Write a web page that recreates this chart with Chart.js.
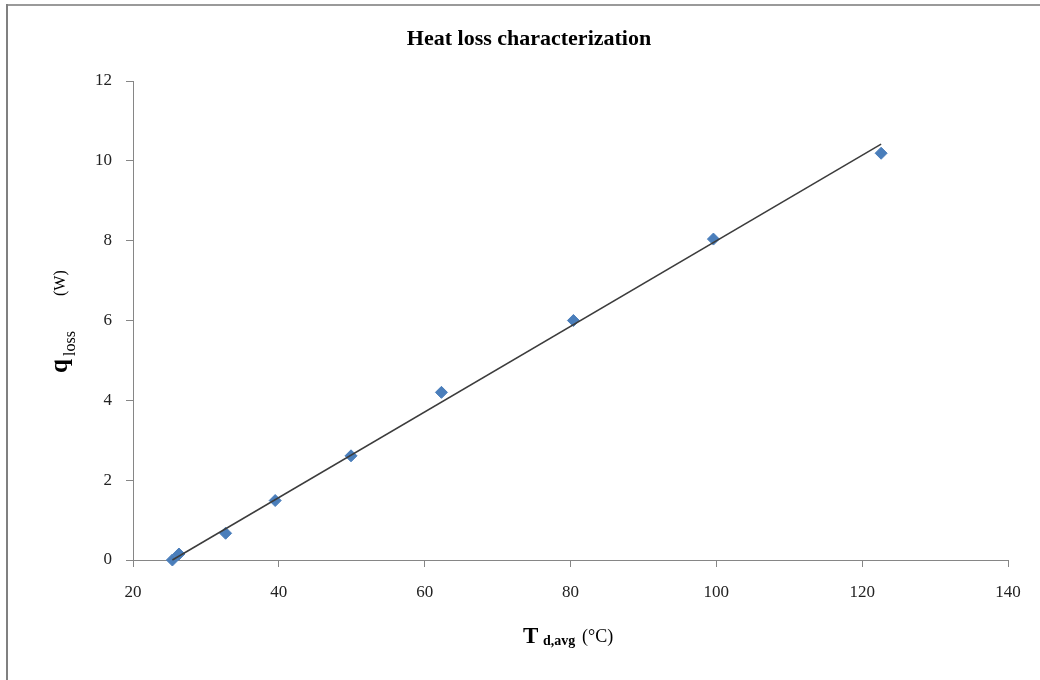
<!DOCTYPE html>
<html lang="en">
<head>
    <meta charset="UTF-8">
    <title>Heat loss characterization</title>
    <script src="https://cdn.jsdelivr.net/npm/chart.js@4.4.1/dist/chart.umd.min.js"></script>
    <style>
        body {
            margin: 0;
            background: #ffffff;
        }
        #wrap {
            width: 1040px;
            height: 680px;
        }
    </style>
</head>
<body>
    <div id="wrap">
        <canvas id="heatChart" width="1040" height="680"></canvas>
    </div>

    <script>
        const tempAvg = [25.4, 26.3, 32.7, 39.5, 49.9, 62.3, 80.4, 99.6, 122.6];
        const qLoss = [0.0, 0.15, 0.67, 1.49, 2.61, 4.2, 6.0, 8.04, 10.19];

        // ends of the linear trend line
        const trendT = [25.4, 122.6];
        const qTrend = [0.0, 10.42];

        const xTicks = [20, 40, 60, 80, 100, 120, 140];
        const yTicks = [0, 2, 4, 6, 8, 10, 12];

        const SERIF = "'Liberation Serif', 'DejaVu Serif', serif";
        const AXIS_GRAY = '#868686';

        // frame, title and the axis captions with subscripts
        const decorations = {
            id: 'decorations',
            beforeDraw(chart) {
                const ctx = chart.ctx;
                ctx.save();
                ctx.fillStyle = '#ffffff';
                ctx.fillRect(0, 0, chart.width, chart.height);
                ctx.fillStyle = '#9a9a9a';
                ctx.fillRect(6, 4, chart.width - 6, 2);
                ctx.fillStyle = '#808080';
                ctx.fillRect(6, 4, 2, chart.height - 4);
                ctx.restore();
            },
            afterDraw(chart) {
                const ctx = chart.ctx;
                ctx.save();
                ctx.fillStyle = '#000000';
                ctx.textBaseline = 'alphabetic';

                ctx.textAlign = 'center';
                ctx.font = 'bold 22px ' + SERIF;
                ctx.fillText('Heat loss characterization', 529, 45);

                ctx.textAlign = 'left';
                ctx.font = 'bold 23px ' + SERIF;
                ctx.fillText('T', 523, 643);
                ctx.font = 'bold 14px ' + SERIF;
                ctx.fillText('d,avg', 543, 645);
                ctx.font = '18px ' + SERIF;
                ctx.fillText('(°C)', 582, 642);

                const rotated = (text, font, x, y) => {
                    ctx.save();
                    ctx.translate(x, y);
                    ctx.rotate(-Math.PI / 2);
                    ctx.font = font;
                    ctx.fillText(text, 0, 0);
                    ctx.restore();
                };
                rotated('q', 'bold 25px ' + SERIF, 67, 373);
                rotated('loss', '16px ' + SERIF, 75, 356);
                rotated('(W)', '16px ' + SERIF, 65, 296);
                ctx.restore();
            }
        };

        const ctx = document.getElementById('heatChart').getContext('2d');
        new Chart(ctx, {
            type: 'scatter',
            data: {
                datasets: [
                    {
                        label: 'Linear trend',
                        type: 'line',
                        data: trendT.map((t, i) => ({ x: t, y: qTrend[i] })),
                        borderColor: '#3c3c3c',
                        borderWidth: 1.5,
                        pointRadius: 0,
                        fill: false,
                        clip: false
                    },
                    {
                        label: 'q loss',
                        data: tempAvg.map((t, i) => ({ x: t, y: qLoss[i] })),
                        pointStyle: 'rectRot',
                        pointRadius: 6,
                        backgroundColor: '#4a7ebb',
                        borderColor: '#4a7ebb',
                        borderWidth: 1,
                        clip: false
                    }
                ]
            },
            options: {
                responsive: false,
                animation: false,
                layout: {
                    padding: { left: 0, right: 32, top: 81, bottom: 0 }
                },
                plugins: {
                    legend: { display: false },
                    title: { display: false },
                    tooltip: { enabled: false }
                },
                scales: {
                    x: {
                        type: 'linear',
                        min: xTicks[0],
                        max: xTicks[xTicks.length - 1],
                        afterBuildTicks(axis) {
                            axis.ticks = xTicks.map(v => ({ value: v }));
                        },
                        afterFit(axis) {
                            axis.height = 120;
                        },
                        grid: {
                            drawOnChartArea: false,
                            drawTicks: true,
                            tickLength: 7,
                            color: AXIS_GRAY
                        },
                        border: { color: AXIS_GRAY, width: 1 },
                        ticks: {
                            padding: 15,
                            color: '#222222',
                            maxRotation: 0,
                            font: { family: SERIF, size: 17 }
                        }
                    },
                    y: {
                        type: 'linear',
                        min: yTicks[0],
                        max: yTicks[yTicks.length - 1],
                        afterBuildTicks(axis) {
                            axis.ticks = yTicks.map(v => ({ value: v }));
                        },
                        afterFit(axis) {
                            axis.width = 133;
                        },
                        grid: {
                            drawOnChartArea: false,
                            drawTicks: true,
                            tickLength: 7,
                            color: AXIS_GRAY
                        },
                        border: { color: AXIS_GRAY, width: 1 },
                        ticks: {
                            padding: 14,
                            color: '#222222',
                            font: { family: SERIF, size: 17 }
                        }
                    }
                }
            },
            plugins: [decorations]
        });
    </script>
</body>
</html>
